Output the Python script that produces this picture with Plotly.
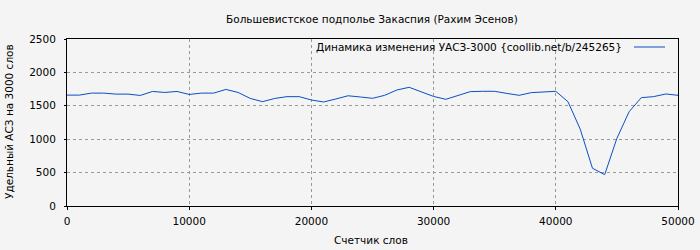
import plotly.graph_objects as go

words = [i * 1000 for i in range(51)]
uasz = [1660, 1660, 1690, 1690, 1675, 1675, 1655, 1715, 1700, 1715,
        1670, 1690, 1690, 1745, 1700, 1610, 1562, 1610, 1637, 1637,
        1587, 1557, 1602, 1650, 1632, 1612, 1657, 1737, 1777, 1712,
        1640, 1597, 1652, 1712, 1717, 1717, 1685, 1657, 1697, 1707,
        1717, 1560, 1150, 565, 469, 1013, 1412, 1622, 1637, 1677,
        1657]

title = "Большевистское подполье Закаспия (Рахим Эсенов)"
series_name = "Динамика изменения УАСЗ-3000 {coollib.net/b/245265}"
x_title = "Счетчик слов"
y_title = "Удельный АСЗ на 3000 слов"
x_ticks = [0, 10000, 20000, 30000, 40000, 50000]
y_ticks = [0, 500, 1000, 1500, 2000, 2500]

W, H = 700, 250
L, R, T, B = 67, 22, 39, 44
line_color = "#0a4fc4"
font = "DejaVu Sans, sans-serif"
fs = 10.5

fig = go.Figure()
fig.add_trace(go.Scatter(x=words, y=uasz, mode="lines", name=series_name,
                         showlegend=False,
                         line=dict(color=line_color, width=1)))

pw, ph = W - L - R, H - T - B
def px_x(p):
    return (p - L) / pw
def px_y(p):
    return (H - B - p) / ph

annotations = [
    dict(text=title, xref="paper", yref="paper", x=px_x(372), y=px_y(19),
         xanchor="center", yanchor="middle", showarrow=False, font=dict(size=fs)),
    dict(text=x_title, xref="paper", yref="paper", x=px_x(371), y=px_y(240),
         xanchor="center", yanchor="middle", showarrow=False, font=dict(size=fs)),
    dict(text=y_title, xref="paper", yref="paper", x=px_x(9), y=px_y(122),
         xanchor="center", yanchor="middle", showarrow=False, textangle=-90,
         font=dict(size=fs)),
    dict(text=series_name, xref="paper", yref="paper", x=px_x(624), y=px_y(47),
         xanchor="right", yanchor="middle", showarrow=False, font=dict(size=fs)),
]
shapes = [
    dict(type="line", xref="paper", yref="paper", x0=px_x(634), x1=px_x(665),
         y0=px_y(47), y1=px_y(47), line=dict(color=line_color, width=1)),
]

fig.update_layout(
    width=W, height=H,
    margin=dict(l=L, r=R, t=T, b=B, autoexpand=False),
    paper_bgcolor="#f4f4f4", plot_bgcolor="#f4f4f4",
    font=dict(family=font, size=fs, color="#000"),
    showlegend=False,
    annotations=annotations, shapes=shapes,
)
fig.update_xaxes(range=[0, 50000], tickvals=x_ticks, ticktext=[str(v) for v in x_ticks],
                 showgrid=True, gridcolor="#999", griddash="dot", gridwidth=1,
                 showline=True, linecolor="#000", linewidth=1, mirror=True,
                 ticks="outside", ticklen=3, tickcolor="#000", zeroline=False,
                 automargin=False, ticklabelstandoff=2)
fig.update_yaxes(range=[0, 2500], tickvals=y_ticks, ticktext=[str(v) for v in y_ticks],
                 showgrid=True, gridcolor="#999", griddash="dot", gridwidth=1,
                 showline=True, linecolor="#000", linewidth=1, mirror=True,
                 ticks="outside", ticklen=2, tickcolor="#000", zeroline=False,
                 automargin=False, ticklabelstandoff=6)

fig.write_html("out.html")
